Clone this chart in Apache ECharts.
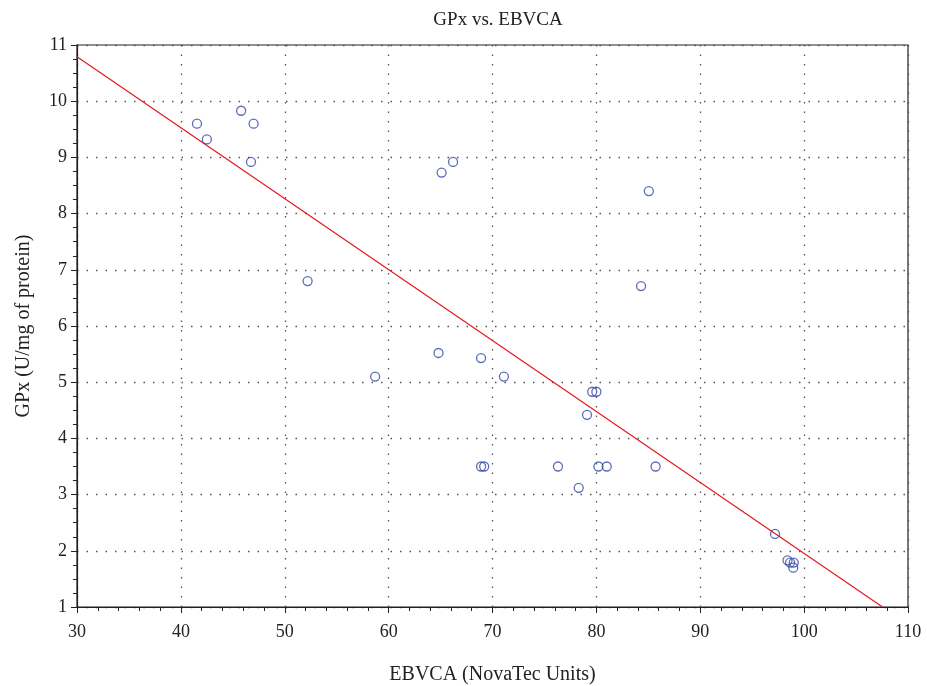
<!DOCTYPE html>
<html>
<head>
<meta charset="utf-8">
<script src="https://cdn.jsdelivr.net/npm/echarts@6/dist/echarts.min.js"></script>
<style>html,body{margin:0;padding:0;background:#fff;}#c{width:927px;height:686px;}</style>
</head>
<body>
<div id="c"></div>
<script>
const ebvca = [41.55, 45.8, 42.5, 47.0, 46.75, 52.2, 58.7, 64.8, 65.1, 66.2, 68.9, 68.9, 69.2, 71.1, 76.3, 78.3, 79.1, 79.6, 80.0, 80.2, 81.0, 85.05, 84.3, 85.7, 97.2, 98.4, 98.65, 99.0, 98.95];
const gpx   = [9.6, 9.83, 9.32, 9.6, 8.92, 6.8, 5.1, 5.52, 8.73, 8.92, 5.43, 3.5, 3.5, 5.1, 3.5, 3.12, 4.42, 4.83, 4.83, 3.5, 3.5, 8.4, 6.71, 3.5, 2.3, 1.83, 1.79, 1.79, 1.7];
const fitX = [30, 107.55];
const fitY = [10.79, 1];
const xTicks = [30, 40, 50, 60, 70, 80, 90, 100, 110];
const yTicks = [1, 2, 3, 4, 5, 6, 7, 8, 9, 10, 11];

const font = '"Liberation Serif", "DejaVu Serif", serif';
const chart = echarts.init(document.getElementById('c'));
chart.setOption({
  animation: false,
  title: {
    text: 'GPx vs. EBVCA', left: 493, top: 6, textAlign: 'center',
    textStyle: { fontFamily: font, fontSize: 19, fontWeight: 'normal', color: '#222' }
  },
  grid: { left: 77, right: 19, top: 45, bottom: 79, show: true, borderColor: '#222', borderWidth: 1.2,
          containLabel: false, outerBoundsMode: 'none' },
  xAxis: {
    type: 'value', min: xTicks[0], max: xTicks[xTicks.length - 1], interval: 10,
    name: 'EBVCA (NovaTec Units)', nameLocation: 'middle', nameGap: 58, nameMoveOverlap: false,
    nameTextStyle: { fontFamily: font, fontSize: 20, color: '#222' },
    axisLine: { show: true, onZero: false, lineStyle: { color: '#222', width: 1.2 } },
    axisTick: { show: true, length: 6, lineStyle: { color: '#222' } },
    minorTick: { show: true, splitNumber: 5, length: 4, lineStyle: { color: '#222' } },
    axisLabel: { fontFamily: font, fontSize: 18, color: '#222', margin: 16 },
    splitLine: { show: true, lineStyle: { color: '#555', width: 1.3, type: [1.5, 8] } }
  },
  yAxis: {
    type: 'value', min: yTicks[0], max: yTicks[yTicks.length - 1], interval: 1,
    name: 'GPx (U/mg of protein)', nameLocation: 'middle', nameGap: 43, nameRotate: 90, nameMoveOverlap: false,
    nameTextStyle: { fontFamily: font, fontSize: 20, color: '#222' },
    axisLine: { show: true, onZero: false, lineStyle: { color: '#222', width: 1.2 } },
    axisTick: { show: true, length: 6, lineStyle: { color: '#222' } },
    minorTick: { show: true, splitNumber: 4, length: 4, lineStyle: { color: '#222' } },
    axisLabel: { fontFamily: font, fontSize: 18, color: '#222', margin: 10 },
    splitLine: { show: true, lineStyle: { color: '#555', width: 1.3, type: [1.5, 8] } }
  },
  series: [
    {
      type: 'line', data: fitX.map((x, i) => [x, fitY[i]]),
      symbol: 'none', lineStyle: { color: '#e8161e', width: 1.2 }, z: 2
    },
    {
      type: 'scatter', data: ebvca.map((x, i) => [x, gpx[i]]),
      symbol: 'circle', symbolSize: 9,
      itemStyle: { color: 'rgba(255,255,255,0)', borderColor: '#3349a6', borderWidth: 1.3 }, z: 3
    }
  ]
});
</script>
</body>
</html>
